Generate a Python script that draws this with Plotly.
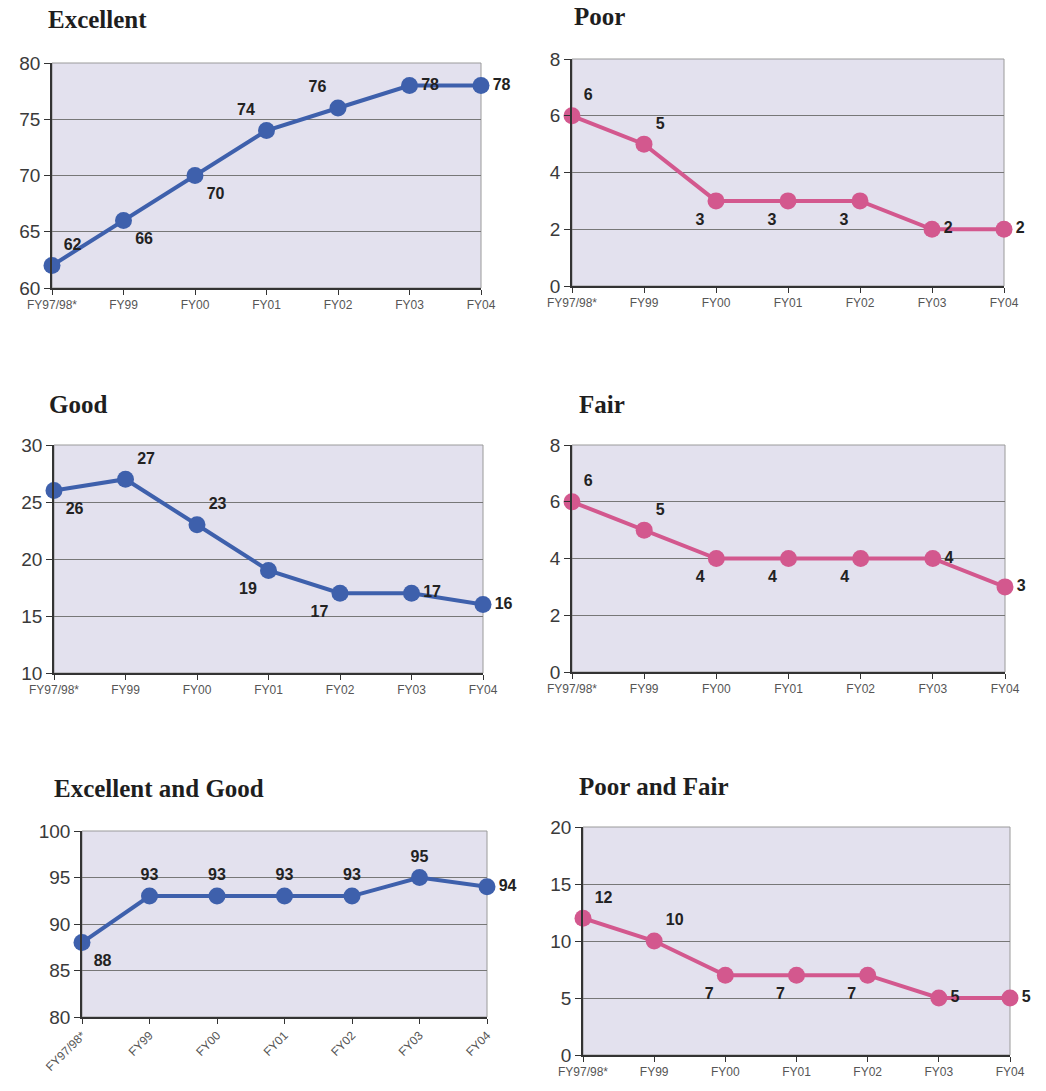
import plotly.graph_objects as go

# Fiscal-year categories shared by every panel
years = ["FY97/98*", "FY99", "FY00", "FY01", "FY02", "FY03", "FY04"]

# Percent of ratings per category
excellent = [62, 66, 70, 74, 76, 78, 78]
poor = [6, 5, 3, 3, 3, 2, 2]
good = [26, 27, 23, 19, 17, 17, 16]
fair = [6, 5, 4, 4, 4, 4, 3]
excellent_good = [88, 93, 93, 93, 93, 95, 94]
poor_fair = [12, 10, 7, 7, 7, 5, 5]

W, H = 1046, 1091
BLUE = "#3E60AC"
PINK = "#D3588E"
PLOT_BG = "#E3E1EE"

# Each panel: title, values, colour, y range, y step, pixel box (x0, x1, ytop, ybottom),
# title position, label positions, rotated x labels
panels = [
    dict(title="Excellent", y=excellent, color=BLUE, rng=[60, 80], dtick=5,
         box=(52, 481, 63, 288), tpos=(46, 20),
         tp=["top right", "bottom right", "bottom right", "top left", "top left",
             "middle right", "middle right"], rot=False),
    dict(title="Poor", y=poor, color=PINK, rng=[0, 8], dtick=2,
         box=(572, 1004, 59, 286), tpos=(572, 17),
         tp=["top right", "top right", "bottom left", "bottom left", "bottom left",
             "middle right", "middle right"], rot=False),
    dict(title="Good", y=good, color=BLUE, rng=[10, 30], dtick=5,
         box=(54, 483, 445, 673), tpos=(47, 404),
         tp=["bottom right", "top right", "top right", "bottom left", "bottom left",
             "middle right", "middle right"], rot=False),
    dict(title="Fair", y=fair, color=PINK, rng=[0, 8], dtick=2,
         box=(572, 1005, 445, 672), tpos=(577, 404),
         tp=["top right", "top right", "bottom left", "bottom left", "bottom left",
             "middle right", "middle right"], rot=False),
    dict(title="Excellent and Good", y=excellent_good, color=BLUE, rng=[80, 100], dtick=5,
         box=(82, 487, 831, 1017), tpos=(52, 788),
         tp=["bottom right", "top center", "top center", "top center", "top center",
             "top center", "middle right"], rot=True),
    dict(title="Poor and Fair", y=poor_fair, color=PINK, rng=[0, 20], dtick=5,
         box=(583, 1010, 827, 1055), tpos=(577, 786),
         tp=["top right", "top right", "bottom left", "bottom left", "bottom left",
             "middle right", "middle right"], rot=False),
]

fig = go.Figure()
layout = dict(
    width=W, height=H, margin=dict(l=0, r=0, t=0, b=0),
    paper_bgcolor="white", plot_bgcolor="rgba(0,0,0,0)", showlegend=False,
    annotations=[], shapes=[],
)

for i, p in enumerate(panels, start=1):
    x0, x1, yt, yb = p["box"]
    xa = "x" if i == 1 else f"x{i}"
    ya = "y" if i == 1 else f"y{i}"
    xkey = "xaxis" if i == 1 else f"xaxis{i}"
    ykey = "yaxis" if i == 1 else f"yaxis{i}"

    fig.add_trace(go.Scatter(
        x=years, y=p["y"], xaxis=xa, yaxis=ya,
        mode="lines+markers+text",
        line=dict(color=p["color"], width=4),
        marker=dict(color=p["color"], size=17),
        text=[f"<b>{v}</b>" for v in p["y"]], textposition=p["tp"],
        textfont=dict(family="Arial, Liberation Sans", size=16, color="#222222"),
        cliponaxis=False, hoverinfo="skip",
    ))

    layout[xkey] = dict(
        domain=[x0 / W, x1 / W], anchor=ya, type="category",
        range=[0, len(years) - 1], automargin=False,
        showline=True, linecolor="#333333", linewidth=1.5,
        ticks="outside", ticklen=5, tickcolor="#333333",
        showgrid=False, zeroline=False,
        tickangle=-45 if p["rot"] else 0,
        tickfont=dict(family="Arial, Liberation Sans", size=12, color="#555555"),
    )
    layout[ykey] = dict(
        domain=[1 - yb / H, 1 - yt / H], anchor=xa, automargin=False,
        range=p["rng"], dtick=p["dtick"], tick0=p["rng"][0],
        showline=True, linecolor="#333333", linewidth=1.5,
        ticks="outside", ticklen=6, tickcolor="#333333",
        showgrid=True, gridcolor="#777777", gridwidth=1, zeroline=False,
        tickfont=dict(family="Arial, Liberation Sans", size=19, color="#3A3A3A"),
    )

    # Lavender plot panel with a light frame
    layout["shapes"].append(dict(
        type="rect", xref=f"{xa} domain", yref=f"{ya} domain",
        x0=0, x1=1, y0=0, y1=1, fillcolor=PLOT_BG,
        line=dict(color="#9A9A9A", width=1), layer="below",
    ))

    tx, ty = p["tpos"]
    layout["annotations"].append(dict(
        text=f"<b>{p['title']}</b>", xref="paper", yref="paper",
        x=tx / W, y=1 - ty / H, xanchor="left", yanchor="middle",
        showarrow=False,
        font=dict(family="Liberation Serif, Times New Roman", size=25, color="#1E1E1E"),
    ))

fig.update_layout(**layout)
fig.write_html("out.html")
